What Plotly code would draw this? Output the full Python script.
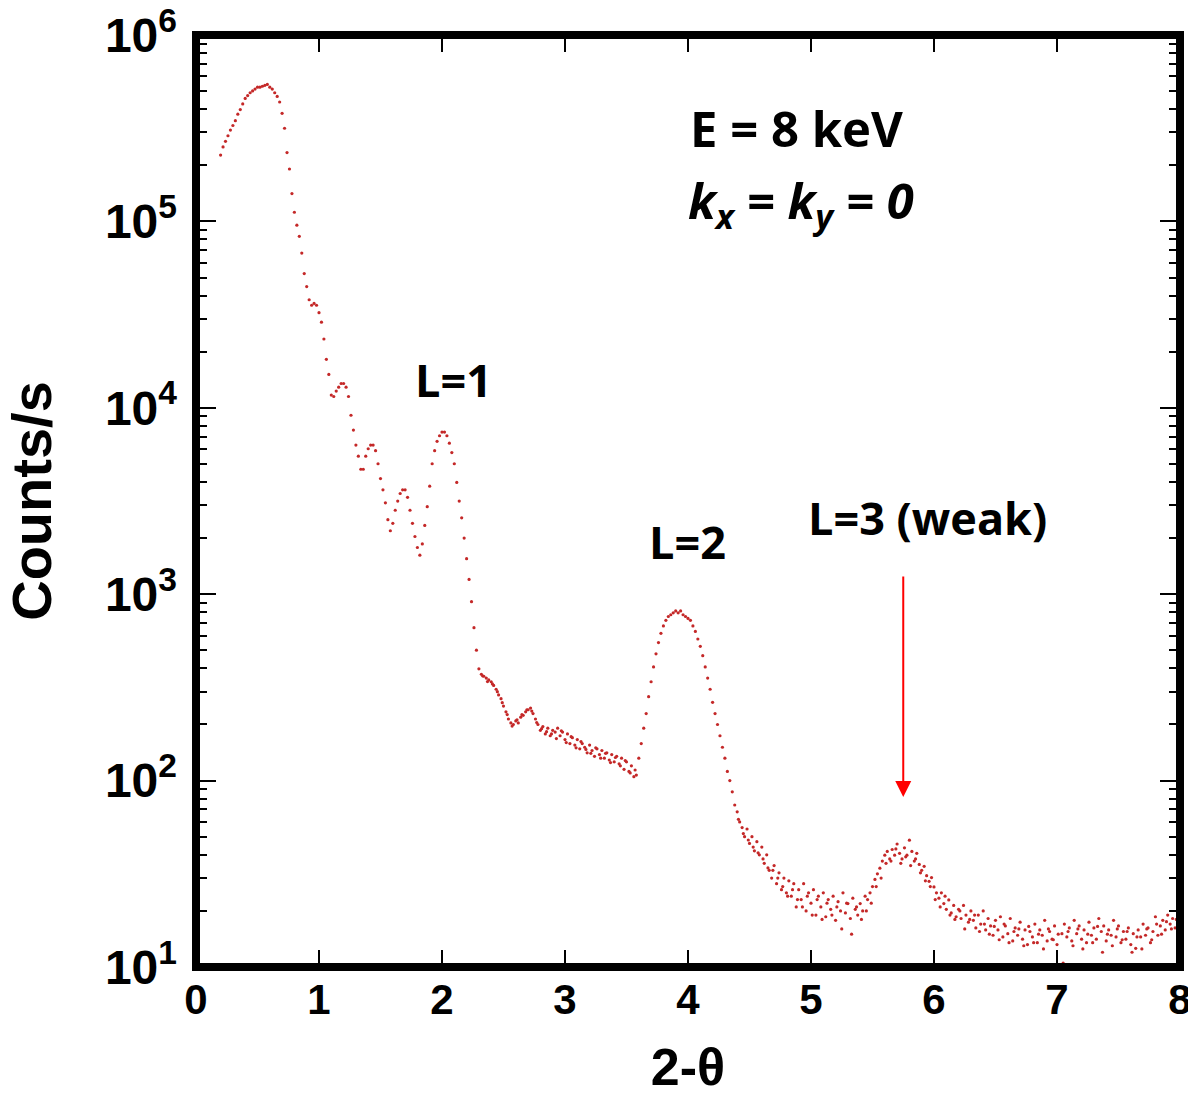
import math
import plotly.graph_objects as go

# ---- main scan (2-theta, counts/s) ----
two_theta = [
0.20,0.22,0.24,0.26,0.28,0.30,0.32,0.34,0.36,0.38,0.40,0.42,0.44,0.46,0.48,0.50,0.52,0.54,0.56,0.58,
0.60,0.62,0.64,0.66,0.68,0.70,0.72,0.74,0.76,0.78,0.80,0.82,0.84,0.86,0.88,0.90,0.92,0.94,0.96,0.98,
1.00,1.02,1.04,1.06,1.08,1.10,1.12,1.14,1.16,1.18,1.20,1.22,1.24,1.26,1.28,1.30,1.32,1.34,1.36,1.38,
1.40,1.42,1.44,1.46,1.48,1.50,1.52,1.54,1.56,1.58,1.60,1.62,1.64,1.66,1.68,1.70,1.72,1.74,1.76,1.78,
1.80,1.82,1.84,1.86,1.88,1.90,1.92,1.94,1.96,1.98,2.00,2.02,2.04,2.06,2.08,2.10,2.12,2.14,2.16,2.18,
2.20,2.22,2.24,2.26,2.28,2.30,2.32,2.34,2.36,2.38,2.40,2.42,2.44,2.46,2.48,2.50,2.52,2.54,2.56,2.58,
2.60,2.62,2.64,2.66,2.68,2.70,2.72,2.74,2.76,2.78,2.80,2.82,2.84,2.86,2.88,2.90,2.92,2.94,2.96,2.98,
3.00,3.02,3.04,3.06,3.08,3.10,3.12,3.14,3.16,3.18,3.20,3.22,3.24,3.26,3.28,3.30,3.32,3.34,3.36,3.38,
3.40,3.42,3.44,3.46,3.48,3.50,3.52,3.54,3.56,3.58,3.60,3.62,3.64,3.66,3.68,3.70,3.72,3.74,3.76,3.78,
3.80,3.82,3.84,3.86,3.88,3.90,3.92,3.94,3.96,3.98,4.00,4.02,4.04,4.06,4.08,4.10,4.12,4.14,4.16,4.18,
4.20,4.22,4.24,4.26,4.28,4.30,4.32,4.34,4.36,4.38,4.40,4.42,4.44,4.46,4.48,4.50,4.52,4.54,4.56,4.58,
4.60,4.62,4.64,4.66,4.68,4.70,4.72,4.74,4.76,4.78,4.80,4.82,4.84,4.86,4.88,4.90,4.92,4.94,4.96,4.98,
5.00,5.02,5.04,5.06,5.08,5.10,5.12,5.14,5.16,5.18,5.20,5.22,5.24,5.26,5.28,5.30,5.32,5.34,5.36,5.38,
5.40,5.42,5.44,5.46,5.48,5.50,5.52,5.54,5.56,5.58,5.60,5.62,5.64,5.66,5.68,5.70,5.72,5.74,5.76,5.78,
5.80,5.82,5.84,5.86,5.88,5.90,5.92,5.94,5.96,5.98,6.00,6.02,6.04,6.06,6.08,6.10,6.12,6.14,6.16,6.18,
6.20,6.22,6.24,6.26,6.28,6.30,6.32,6.34,6.36,6.38,6.40,6.42,6.44,6.46,6.48,6.50,6.52,6.54,6.56,6.58,
6.60,6.62,6.64,6.66,6.68,6.70,6.72,6.74,6.76,6.78,6.80,6.82,6.84,6.86,6.88,6.90,6.92,6.94,6.96,6.98,
7.00,7.02,7.04,7.06,7.08,7.10,7.12,7.14,7.16,7.18,7.20,7.22,7.24,7.26,7.28,7.30,7.32,7.34,7.36,7.38,
7.40,7.42,7.44,7.46,7.48,7.50,7.52,7.54,7.56,7.58,7.60,7.62,7.64,7.66,7.68,7.70,7.72,7.74,7.76,7.78,
7.80,7.82,7.84,7.86,7.88,7.90,7.92,7.94,7.96,7.98,
]
counts = [
227000,251000,269000,288000,309000,327000,347000,376000,398000,427000,457000,473000,490000,501000,513000,525000,525000,531000,537000,543000,
525000,513000,490000,468000,437000,380000,316000,234000,191000,141000,112000,95500,83200,67600,52500,44700,38000,35500,36300,35500,
32400,28800,23400,18200,15100,11700,11500,12300,12900,13500,13500,12900,11500,9120,7590,6310,5500,4680,4680,5500,
6030,6310,6310,5890,5010,4170,3630,3090,2510,2190,2400,2820,3160,3470,3630,3630,3310,2820,2400,2040,
1780,1620,1860,2340,2950,3800,5010,5890,6610,7080,7410,7410,7080,6460,5750,5010,3980,3160,2570,2000,
1550,1200,912,661,501,398,372,363,355,347,339,324,309,288,275,251,234,214,204,200,
209,204,219,224,234,240,245,229,214,200,186,195,178,191,174,186,182,191,174,182,
166,178,158,170,155,166,148,158,151,141,155,145,135,148,138,145,132,141,129,138,
126,135,123,132,115,126,112,120,105,107,132,158,191,229,282,339,407,479,550,617,
676,724,759,776,794,813,794,813,776,759,741,724,676,631,575,525,468,407,355,309,
263,229,200,174,151,132,112,100,87,74,68,60,56,50,55,46,50,42,47,40,
44,36,40,33,30,35,28,32,26,30,25,29,24,28,21,26,23,28,20,25,
22,26,19,24,21,25,18.6,23,20.4,24,17.8,22.4,20,25,19.5,21.9,18.2,23.4,20.4,19,
21.9,20,24,23,25,27,29.5,31.6,33.9,37,39.8,41.7,38,42.7,39.8,45.7,40.7,38,43.6,39.8,
47.9,41.7,37,40.7,35.5,33,34.7,30.9,28.8,30.2,26.9,25,23.4,25,21.9,20.4,22.9,19.5,21.4,18.6,
20.4,18.2,21.4,19,17.4,20,17.8,16.2,19,17,20,15.8,18.2,16.6,14.8,17.8,15.8,18.6,14.5,16.6,
15.1,18.2,13.8,16.2,14.8,17.4,14.1,15.8,13.2,15.5,14.5,17,13.5,15.8,14.8,17.8,13.8,15.5,14.1,16.6,
13.2,10,15.1,17,14.5,16.2,13.8,17.8,15.1,16.6,14.1,15.8,13.5,17.4,14.8,16.2,14.1,18.2,15.5,16.6,
13.8,15.8,14.8,17.8,14.5,16.6,13.5,15.5,14.1,16.2,13.2,15.1,12.6,15.8,14.5,17,14.8,16.2,13.5,15.5,
18.6,14.8,16.6,17.8,15.8,19,17,18.2,16.2,19.5,
]

# ---- interleaved readings in the noisy parts of the scan ----
two_theta_b = [
2.33,2.37,2.41,2.45,2.49,2.53,2.57,2.61,2.65,2.69,2.73,2.77,2.81,2.85,2.89,2.93,2.97,3.01,3.05,3.09,
3.13,3.17,3.21,3.25,3.29,3.33,3.37,3.41,3.45,3.49,3.53,3.57,
4.41,4.45,4.49,4.53,4.57,4.61,4.65,4.69,4.73,4.77,4.81,4.85,4.89,4.93,4.97,5.01,5.05,5.09,5.13,5.17,
5.21,5.25,5.29,5.33,5.37,5.41,5.45,5.49,5.53,5.57,5.61,5.65,5.69,5.73,5.77,5.81,5.85,5.89,5.93,5.97,
6.01,6.05,6.09,6.13,6.17,6.21,6.25,6.29,6.33,6.37,6.41,6.45,6.49,6.53,6.57,6.61,6.65,6.69,6.73,6.77,
6.81,6.85,6.89,6.93,6.97,7.01,7.05,7.09,7.13,7.17,7.21,7.25,7.29,7.33,7.37,7.41,7.45,7.49,7.53,7.57,
7.61,7.65,7.69,7.73,7.77,7.81,7.85,7.89,7.93,7.97,
]
counts_b = [
365,340,330,300,262,226,196,212,226,240,236,205,190,183,178,168,185,160,172,150,
162,147,140,150,132,140,125,133,120,128,110,114,
62,52,48,44,41,38,34,33,30,27,24,26,23,21,24,19,23,18,22,19,
21,16,22,15,21,18,20,22,27,30,36,37,43,36,39,35,38,32,29,27,
23,21,24,19,18,20,16,18,19,15.5,17,15,16.5,14,17,13.5,15.5,16,13,16.5,
13.5,15,12.5,16,14,15,10.5,15.5,13,16,12.5,15,13.5,16.5,12,15,13,16,14,15.5,
12,14.5,12.5,16,14,17,15,17.5,16,18,
]

y_tickvals = [1e1, 1e2, 1e3, 1e4, 1e5, 1e6]
y_ticktext = ["<b>10<sup>1</sup></b>", "<b>10<sup>2</sup></b>", "<b>10<sup>3</sup></b>",
              "<b>10<sup>4</sup></b>", "<b>10<sup>5</sup></b>", "<b>10<sup>6</sup></b>"]
x_tickvals = [0, 1, 2, 3, 4, 5, 6, 7, 8]
x_ticktext = ["<b>%d</b>" % v for v in x_tickvals]

arrow_x = 5.75
arrow_tip = 81.7
arrow_tail = 1268

dot_color = "#c42828"

fig = go.Figure()
for xs, ys in ((two_theta, counts), (two_theta_b, counts_b)):
    fig.add_trace(go.Scatter(
        x=xs, y=ys, mode="markers",
        marker=dict(size=3.2, color=dot_color, line=dict(width=0)),
        showlegend=False, hoverinfo="x+y",
    ))

sans = "Liberation Sans, Arial, sans-serif"

fig.update_layout(
    template="none",
    width=1188, height=1096,
    margin=dict(l=196, r=8, t=35, b=129, autoexpand=False),
    paper_bgcolor="white", plot_bgcolor="white",
    showlegend=False,
    xaxis=dict(
        range=[0, 8], tickvals=x_tickvals, ticktext=x_ticktext, automargin=False,
        showgrid=False, zeroline=False, showline=False, mirror="allticks",
        ticks="inside", ticklen=17, tickwidth=2, tickcolor="black",
        ticklabeloverflow="allow", ticklabelstandoff=4,
        tickfont=dict(family=sans, size=42, color="black"),
        title=dict(text="<b>2-θ</b>", font=dict(family=sans, size=52, color="black"), standoff=36),
    ),
    yaxis=dict(
        type="log", range=[1, 6], tickvals=y_tickvals, ticktext=y_ticktext, automargin=False,
        showgrid=False, zeroline=False, showline=False, mirror="allticks",
        ticks="inside", ticklen=20, tickwidth=2, tickcolor="black",
        ticklabeloverflow="allow", ticklabelstandoff=18,
        tickfont=dict(family=sans, size=48, color="black"),
        minor=dict(ticks="inside", ticklen=11, tickwidth=1.5, tickcolor="black",
                   dtick="D1", showgrid=False),
        title=dict(text="<b>Counts/s</b>", font=dict(family=sans, size=56, color="black"), standoff=36),
    ),
    shapes=[dict(type="rect", xref="paper", yref="paper", x0=0, x1=1, y0=0, y1=1,
                 line=dict(color="black", width=8), layer="above")],
)

label_font = dict(family="Open Sans, sans-serif", size=45, color="black")
big_font = dict(family="Open Sans, sans-serif", size=49, color="black")

fig.add_annotation(x=0.5, y=0.9002, xref="paper", yref="paper", xanchor="left", yanchor="middle",
                   text="<b>E = 8 keV</b>", showarrow=False, font=big_font)
fig.add_annotation(x=0.498, y=0.820, xref="paper", yref="paper", xanchor="left", yanchor="middle",
                   text="<b><i>k<sub>x</sub> = k<sub>y</sub> = 0</i></b>", showarrow=False, font=big_font)
fig.add_annotation(x=0.2612, y=0.6299, xref="paper", yref="paper", xanchor="center", yanchor="middle",
                   text="<b>L=1</b>", showarrow=False, font=label_font)
fig.add_annotation(x=0.4990, y=0.4562, xref="paper", yref="paper", xanchor="center", yanchor="middle",
                   text="<b>L=2</b>", showarrow=False, font=label_font)
fig.add_annotation(x=0.7439, y=0.4820, xref="paper", yref="paper", xanchor="center", yanchor="middle",
                   text="<b>L=3 (weak)</b>", showarrow=False, font=label_font)

fig.add_annotation(x=arrow_x, y=math.log10(arrow_tip), ax=arrow_x, ay=math.log10(arrow_tail),
                   xref="x", yref="y", axref="x", ayref="y", text="",
                   showarrow=True, arrowhead=2, arrowsize=1.6, arrowwidth=2, arrowcolor="red")

fig.write_html("out.html", config={"displayModeBar": False},
               post_script="document.body.style.margin='0';")
